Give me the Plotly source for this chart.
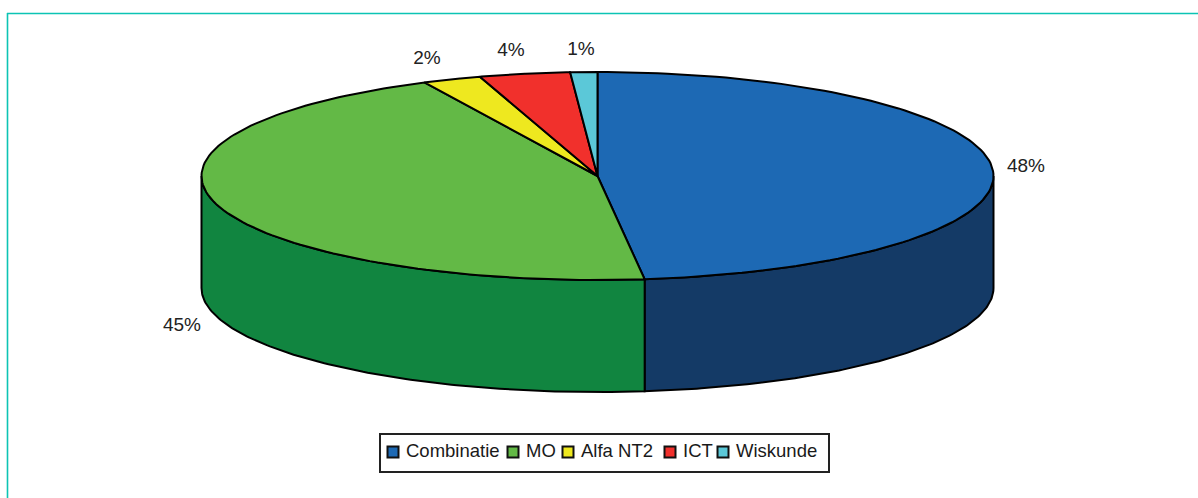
import numpy as np
import plotly.graph_objects as go

categories = ["Combinatie", "MO", "Alfa NT2", "ICT", "Wiskunde"]
values = [48.1, 44.7, 2.4, 3.7, 1.1]
top_colors = ["#1d69b4", "#63b946", "#eee81f", "#f1302c", "#5bc8d8"]
side_colors = ["#143a66", "#118540", "#b8b418", "#b52320", "#3f9aa8"]

# page geometry, in pixels
W, H = 1198, 498
cx, cy = 597.5, 176
rx, ry = 396, 104
depth = 112


def arc(t1, t2, dy=0):
    # t in degrees, clockwise from the top of the ellipse
    t = np.radians(np.linspace(t1, t2, 120))
    return cx + rx * np.sin(t), cy - ry * np.cos(t) + dy


fig = go.Figure()

edges = np.cumsum([0] + values) * 3.6

# walls first, only the part of the rim that faces the viewer
for i in range(len(values)):
    t1, t2 = max(edges[i], 90), min(edges[i + 1], 270)
    if t1 >= t2:
        continue
    xt, yt = arc(t1, t2)
    xb, yb = arc(t2, t1, depth)
    fig.add_trace(go.Scatter(
        x=np.r_[xt, xb, xt[0]], y=np.r_[yt, yb, yt[0]],
        mode="lines", fill="toself", fillcolor=side_colors[i],
        line=dict(color="black", width=2), hoverinfo="skip",
    ))

# top face
for i in range(len(values)):
    xa, ya = arc(edges[i], edges[i + 1])
    fig.add_trace(go.Scatter(
        x=np.r_[cx, xa, cx], y=np.r_[cy, ya, cy],
        mode="lines", fill="toself", fillcolor=top_colors[i],
        line=dict(color="black", width=2), name=categories[i],
    ))

# percentage labels
label_x = [1026, 182, 427, 511, 581]
label_y = [167, 326, 59, 51, 50]
fig.add_trace(go.Scatter(
    x=label_x, y=label_y, mode="text",
    text=[f"{round(v)}%" for v in values],
    textfont=dict(family="Liberation Sans", size=19, color="#222222"),
    hoverinfo="skip",
))

# legend, drawn by hand because plotly's own spaces the entries too wide
legend_x = np.array([393, 513, 568, 670, 723])
fig.add_trace(go.Scatter(
    x=legend_x, y=[452] * len(legend_x), mode="markers",
    marker=dict(symbol="square", size=11, color=top_colors,
                line=dict(color="#111111", width=2)),
    hoverinfo="skip",
))
fig.add_trace(go.Scatter(
    x=legend_x + 13, y=[452] * len(legend_x), mode="text",
    text=categories, textposition="middle right",
    textfont=dict(family="Liberation Sans", size=18.5, color="#1a1a1a"),
    hoverinfo="skip",
))

# legend box and the teal page frame
fig.add_shape(type="rect", x0=380, x1=829, y0=434, y1=472,
              line=dict(color="#222222", width=2), fillcolor="rgba(0,0,0,0)")
fig.add_shape(type="line", x0=7, x1=W, y0=13.5, y1=13.5,
              line=dict(color="#0cc4b4", width=1.6))
fig.add_shape(type="line", x0=7.5, x1=7.5, y0=13, y1=H,
              line=dict(color="#0cc4b4", width=1.6))

fig.update_xaxes(range=[0, W], visible=False)
fig.update_yaxes(range=[H, 0], visible=False)
fig.update_layout(
    width=W, height=H, margin=dict(l=0, r=0, t=0, b=0),
    paper_bgcolor="white", plot_bgcolor="white", showlegend=False,
)

fig.write_html("out.html", config=dict(displayModeBar=False),
               post_script="document.body.style.margin='0';")
